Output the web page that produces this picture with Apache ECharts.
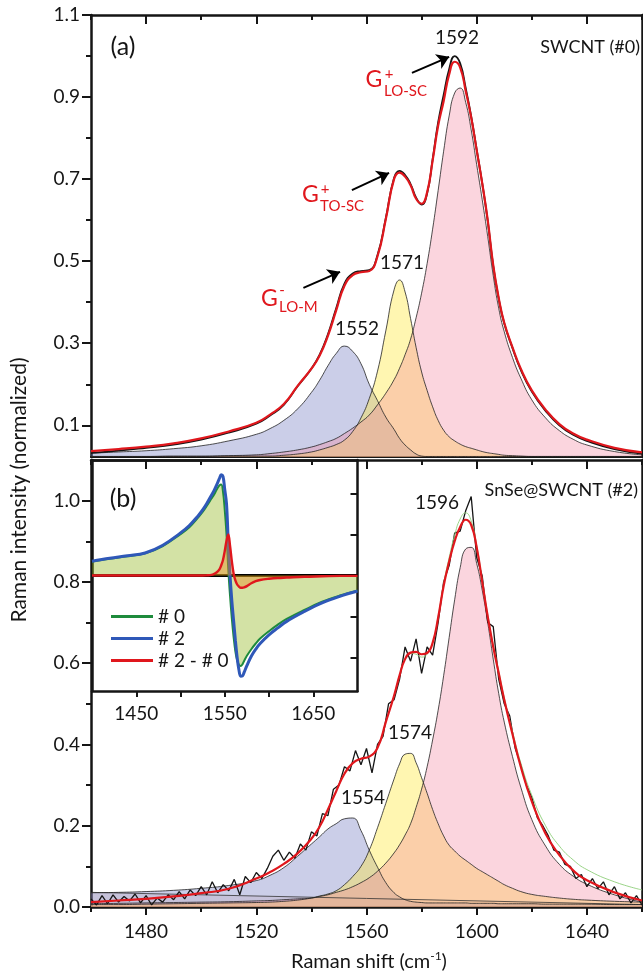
<!DOCTYPE html>
<html>
<head>
<meta charset="utf-8">
<script src="https://cdn.jsdelivr.net/npm/echarts@6/dist/echarts.min.js"></script>
<style>
html, body { margin: 0; padding: 0; background: #fff; }
#chart { width: 643px; height: 979px; }
</style>
</head>
<body>
<div id="chart"></div>
<script>
// ---- panel (a): SWCNT (#0) ----
var xA = [1460,1470,1480,1490,1500,1510,1520,1525,1530,1535,1540,1543,1546,1549,1552,1555,1558,1561,1564,1567,1570,1572,1574,1576,1578,1580,1582,1584,1586,1588,1590,1592,1594,1596,1598,1600,1602,1604,1606,1608,1610,1613,1616,1620,1625,1630,1635,1640,1650,1660];
var blueA = [0.032,0.035,0.038,0.043,0.050,0.062,0.078,0.092,0.112,0.140,0.180,0.210,0.245,0.275,0.293,0.280,0.250,0.200,0.160,0.120,0.090,0.068,0.052,0.040,0.030,0.025,0.024,0.024,0.024,0.024,0.024,0.024,0.024,0.024,0.024,0.024,0.024,0.024,0.024,0.024,0.024,0.024,0.024,0.024,0.024,0.024,0.024,0.024,0.024,0.024];
var yellowA = [0.024,0.024,0.024,0.024,0.024,0.025,0.025,0.025,0.027,0.030,0.035,0.040,0.046,0.053,0.064,0.085,0.118,0.165,0.232,0.330,0.430,0.454,0.425,0.360,0.290,0.230,0.185,0.145,0.112,0.088,0.072,0.062,0.054,0.048,0.044,0.040,0.036,0.033,0.031,0.029,0.027,0.026,0.025,0.024,0.024,0.024,0.024,0.024,0.024,0.024];
var pinkA = [0.024,0.024,0.024,0.025,0.025,0.026,0.028,0.031,0.035,0.040,0.047,0.053,0.060,0.068,0.080,0.093,0.108,0.125,0.150,0.178,0.211,0.239,0.272,0.310,0.362,0.422,0.494,0.578,0.672,0.768,0.854,0.910,0.922,0.887,0.820,0.735,0.650,0.560,0.465,0.385,0.328,0.265,0.215,0.162,0.118,0.087,0.066,0.052,0.036,0.028];
var fitA = [0.037,0.042,0.048,0.056,0.068,0.085,0.106,0.126,0.152,0.196,0.238,0.270,0.318,0.380,0.440,0.466,0.473,0.476,0.512,0.602,0.700,0.716,0.706,0.685,0.652,0.640,0.668,0.745,0.830,0.890,0.955,0.986,0.972,0.915,0.850,0.770,0.690,0.600,0.490,0.410,0.350,0.290,0.238,0.185,0.138,0.103,0.080,0.065,0.045,0.034];
var dataA = [0.033,0.038,0.045,0.053,0.065,0.082,0.104,0.124,0.150,0.195,0.238,0.272,0.322,0.385,0.445,0.470,0.476,0.478,0.515,0.605,0.703,0.720,0.710,0.688,0.655,0.638,0.665,0.748,0.838,0.905,0.968,1.000,0.982,0.922,0.853,0.772,0.690,0.598,0.488,0.408,0.348,0.288,0.235,0.182,0.135,0.100,0.077,0.062,0.042,0.031];
// arrows of panel (a): [from, to] in data units
var arrowsA = [[[1576.5, 0.959], [1590.0, 0.998]], [[1554.7, 0.673], [1568.2, 0.715]], [[1537.1, 0.435], [1550.4, 0.474]]];

// ---- lower panel: SnSe@SWCNT (#2) ----
var xB = xA;
var blueB = [0.035,0.036,0.038,0.041,0.046,0.053,0.065,0.078,0.097,0.125,0.155,0.173,0.192,0.205,0.217,0.219,0.188,0.140,0.098,0.060,0.035,0.025,0.018,0.014,0.012,0.011,0.010,0.010,0.010,0.010,0.010,0.010,0.010,0.010,0.009,0.009,0.009,0.009,0.009,0.008,0.008,0.008,0.008,0.008,0.007,0.007,0.007,0.007,0.006,0.006];
var yellowB = [0.006,0.006,0.007,0.008,0.009,0.010,0.011,0.012,0.014,0.017,0.022,0.027,0.032,0.040,0.055,0.075,0.100,0.140,0.195,0.255,0.315,0.352,0.376,0.378,0.355,0.318,0.280,0.240,0.205,0.175,0.152,0.138,0.125,0.115,0.105,0.095,0.087,0.079,0.071,0.063,0.055,0.046,0.038,0.031,0.026,0.022,0.019,0.017,0.014,0.012];
var pinkB = [0.008,0.009,0.010,0.011,0.012,0.013,0.015,0.016,0.018,0.020,0.022,0.026,0.030,0.036,0.042,0.050,0.060,0.072,0.088,0.108,0.133,0.153,0.177,0.205,0.245,0.290,0.345,0.411,0.484,0.569,0.663,0.756,0.835,0.881,0.885,0.845,0.780,0.700,0.610,0.525,0.455,0.370,0.295,0.215,0.150,0.105,0.076,0.056,0.030,0.012];
var fitB = [0.012,0.016,0.020,0.026,0.034,0.045,0.070,0.086,0.106,0.132,0.168,0.198,0.240,0.285,0.328,0.354,0.365,0.370,0.392,0.455,0.520,0.570,0.610,0.626,0.628,0.622,0.625,0.650,0.712,0.790,0.850,0.900,0.935,0.953,0.940,0.885,0.800,0.715,0.640,0.575,0.510,0.425,0.345,0.260,0.180,0.128,0.090,0.066,0.036,0.016];
var greenB = [0.012,0.016,0.020,0.026,0.034,0.045,0.070,0.086,0.106,0.132,0.168,0.198,0.240,0.285,0.328,0.354,0.365,0.370,0.392,0.455,0.520,0.570,0.610,0.624,0.622,0.615,0.622,0.650,0.715,0.795,0.860,0.915,0.955,0.970,0.950,0.890,0.805,0.720,0.645,0.580,0.515,0.432,0.355,0.275,0.200,0.150,0.116,0.092,0.062,0.042];
var bgB = [[1460, 0.036], [1660, 0.006]];
var xDStart = 1460, xDStep = 2;
var dataB = [0.020,0.005,0.028,0.008,0.030,0.012,0.026,0.015,0.032,0.010,
  0.028,0.005,0.022,0.012,0.030,0.018,0.038,0.020,0.042,0.028,
  0.050,0.030,0.062,0.035,0.055,0.040,0.068,0.030,0.075,0.060,
  0.085,0.070,0.095,0.125,0.140,0.115,0.135,0.120,0.155,0.140,
  0.185,0.175,0.230,0.225,0.290,0.300,0.345,0.335,0.385,0.350,
  0.390,0.330,0.400,0.420,0.500,0.510,0.560,0.640,0.605,0.660,
  0.575,0.640,0.620,0.700,0.800,0.840,0.920,0.925,0.975,1.010,
  0.860,0.815,0.700,0.690,0.560,0.500,0.470,0.390,0.350,0.300,
  0.270,0.220,0.200,0.175,0.140,0.135,0.105,0.100,0.070,0.080,
  0.050,0.070,0.045,0.062,0.030,0.050,0.020,0.035,0.010,0.028,
  0.005];

// ---- inset (b): difference spectra ----
var xI = [1400,1420,1440,1460,1480,1500,1510,1520,1525,1530,1535,1538,1541,1544,1546,1548,1550,1552,1554,1556,1558,1560,1562,1564,1566,1568,1570,1572,1575,1580,1585,1590,1600,1610,1620,1640,1660,1680,1700];
var s0 = [0.34,0.41,0.47,0.54,0.72,1.01,1.18,1.42,1.55,1.71,1.88,1.98,2.10,2.20,2.22,2.05,1.60,1.00,0.15,-0.50,-1.05,-1.50,-1.85,-2.07,-2.18,-2.21,-2.17,-2.08,-1.96,-1.80,-1.66,-1.54,-1.36,-1.20,-1.06,-0.84,-0.64,-0.49,-0.37];
var s2 = [0.35,0.42,0.48,0.55,0.74,1.04,1.22,1.46,1.60,1.77,1.96,2.08,2.22,2.37,2.46,2.42,2.10,1.75,0.80,0.00,-0.62,-1.10,-1.58,-2.00,-2.30,-2.46,-2.45,-2.36,-2.20,-1.97,-1.80,-1.66,-1.45,-1.28,-1.12,-0.88,-0.67,-0.51,-0.38];
var sDiff = [0,0,0,0,0,0,0,0,0,0.005,0.015,0.04,0.08,0.15,0.25,0.38,0.60,0.85,1.00,0.72,0.35,0.05,-0.12,-0.22,-0.27,-0.30,-0.30,-0.29,-0.26,-0.19,-0.14,-0.11,-0.08,-0.06,-0.05,-0.03,-0.02,-0.01,-0.01];

var ink = '#151515';
var red = '#e0171d';
var font = 'Lato';

function pairs(xs, ys) {
  var out = [];
  for (var i = 0; i < ys.length; i++) out.push([xs[i], ys[i]]);
  return out;
}
function evenPairs(x0, step, ys) {
  var out = [];
  for (var i = 0; i < ys.length; i++) out.push([x0 + i * step, ys[i]]);
  return out;
}
function fmt1(v) { return v.toFixed(1); }
function fmt0(v) { return String(Math.round(v)); }

// one axis, with only the parts that are asked for
function axis(o) {
  return {
    type: 'value', gridIndex: o.grid, min: o.min, max: o.max, position: o.pos,
    axisLine: { show: o.line !== false, onZero: false, lineStyle: { color: ink, width: o.lw || 2.5 } },
    axisTick: { show: !!o.ticks, inside: !!o.inside, length: o.len || 6, customValues: o.ticks,
      lineStyle: { color: ink, width: 2 } },
    axisLabel: { show: !!o.labels, customValues: o.labels, margin: o.margin || 8, formatter: o.fmt,
      color: ink, fontFamily: font, fontSize: 19 },
    splitLine: { show: false }
  };
}

var majX = [1480, 1520, 1560, 1600, 1640];
var minX = [1460, 1500, 1540, 1580, 1620, 1660];

var xAxes = [
  axis({ grid: 0, min: 1460, max: 1660, pos: 'bottom', lw: 2 }),                           // 0
  axis({ grid: 0, min: 1460, max: 1660, pos: 'top', ticks: majX, inside: true, len: 9 }),  // 1
  axis({ grid: 0, min: 1460, max: 1660, pos: 'top', ticks: minX, inside: true, len: 5, line: false }),
  axis({ grid: 1, min: 1460, max: 1660, pos: 'bottom', ticks: majX, len: 8, labels: majX, fmt: fmt0, margin: 15 }), // 3
  axis({ grid: 1, min: 1460, max: 1660, pos: 'bottom', ticks: minX, len: 5, line: false }),
  axis({ grid: 1, min: 1460, max: 1660, pos: 'top', ticks: majX, inside: true, len: 9 }),
  axis({ grid: 1, min: 1460, max: 1660, pos: 'top', ticks: minX, inside: true, len: 5, line: false }),
  axis({ grid: 2, min: 1400, max: 1700, pos: 'bottom', ticks: [1450, 1500, 1550, 1600, 1650], len: 6,
    labels: [1450, 1550, 1650], fmt: fmt0, margin: 13 }),                                  // 7
  axis({ grid: 2, min: 1400, max: 1700, pos: 'top' })
];

var yAxes = [
  axis({ grid: 0, min: 0.0227, max: 1.1, pos: 'left', ticks: [0.1, 0.3, 0.5, 0.7, 0.9, 1.1], len: 9,
    labels: [0.1, 0.3, 0.5, 0.7, 0.9, 1.1], fmt: fmt1, margin: 11 }),                      // 0
  axis({ grid: 0, min: 0.0227, max: 1.1, pos: 'left', ticks: [0.2, 0.4, 0.6, 0.8, 1.0], len: 5, line: false }),
  axis({ grid: 0, min: 0.0227, max: 1.1, pos: 'right' }),
  axis({ grid: 1, min: 0, max: 1.1, pos: 'left', ticks: [0, 0.2, 0.4, 0.6, 0.8, 1.0], len: 9,
    labels: [0, 0.2, 0.4, 0.6, 0.8, 1.0], fmt: fmt1, margin: 11 }),                        // 3
  axis({ grid: 1, min: 0, max: 1.1, pos: 'left', ticks: [0.1, 0.3, 0.5, 0.7, 0.9], len: 5, line: false }),
  axis({ grid: 1, min: 0, max: 1.1, pos: 'right' }),
  axis({ grid: 2, min: -2.82, max: 2.82, pos: 'left' }),                                     // 6
  axis({ grid: 2, min: -2.82, max: 2.82, pos: 'right', ticks: [-2, -1, 0, 1, 2], inside: true, len: 7 })
];

function comp(name, xs, ys, fill, xi, yi) {
  return { name: name, type: 'line', xAxisIndex: xi, yAxisIndex: yi, data: pairs(xs, ys),
    smooth: 0.5, showSymbol: false, silent: true, z: 2,
    lineStyle: { color: '#222', width: 0.8 }, areaStyle: { color: fill, origin: 'start', opacity: 1 } };
}
function curve(name, data, color, width, xi, yi, smooth, z) {
  return { name: name, type: 'line', xAxisIndex: xi, yAxisIndex: yi, data: data,
    smooth: smooth, showSymbol: false, silent: true, z: z || 3, color: color,
    lineStyle: { color: color, width: width } };
}

var lav = 'rgba(112,118,192,0.36)';
var yel = 'rgba(255,232,60,0.40)';
var pnk = 'rgba(244,128,155,0.33)';

var arrowLines = arrowsA.map(function (a) { return [{ coord: a[0] }, { coord: a[1] }]; });

var series = [
  comp('1552', xA, blueA, lav, 0, 0),
  comp('1571', xA, yellowA, yel, 0, 0),
  comp('1592', xA, pinkA, pnk, 0, 0),
  curve('data #0', pairs(xA, dataA), ink, 1.8, 0, 0, 0.5, 4),
  (function () {
    var s = curve('fit #0', pairs(xA, fitA), red, 2.2, 0, 0, 0.5, 5);
    s.markLine = { silent: true, symbol: ['none', 'arrow'], symbolSize: 12, animation: false,
      label: { show: false }, lineStyle: { color: '#000', width: 2, type: 'solid' },
      itemStyle: { color: '#000' }, data: arrowLines };
    return s;
  })(),

  (function () {
    var s = curve('background', bgB, '#333', 0.8, 3, 3, false, 2);
    s.areaStyle = { color: 'rgba(200,140,120,0.22)', origin: 'start' };
    return s;
  })(),
  comp('1554', xB, blueB, lav, 3, 3),
  comp('1574', xB, yellowB, yel, 3, 3),
  comp('1596', xB, pinkB, pnk, 3, 3),
  curve('data #2', evenPairs(xDStart, xDStep, dataB), ink, 1.3, 3, 3, false, 4),
  curve('fit #0 scaled', pairs(xB, greenB), '#8fcf7a', 0.9, 3, 3, 0.5, 4),
  curve('fit #2', pairs(xB, fitB), red, 2.2, 3, 3, 0.5, 5),

  (function () {
    var s = curve('# 0', pairs(xI, s0), '#1e8b3c', 2, 7, 6, 0.4, 6);
    s.areaStyle = { color: 'rgba(140,180,20,0.55)', origin: 'auto' };
    return s;
  })(),
  curve('# 2', pairs(xI, s2), '#2f58b8', 3, 7, 6, 0.4, 7),
  (function () {
    var s = curve('# 2 - # 0', pairs(xI, sDiff), red, 2.4, 7, 6, 0.4, 8);
    s.areaStyle = { color: 'rgba(240,135,30,0.6)', origin: 'auto' };
    s.markLine = { silent: true, symbol: ['none', 'none'], animation: false, label: { show: false },
      lineStyle: { color: '#000', width: 3, type: 'solid' }, data: [{ yAxis: 0 }] };
    return s;
  })()
];

function txt(t, x, y, size, color, align, extra) {
  var o = { type: 'text', x: x, y: y, z: 50, silent: true,
    style: { text: t, fill: color || ink, font: size + 'px ' + font, align: align || 'center', verticalAlign: 'middle' } };
  if (extra) for (var k in extra) o[k] = extra[k];
  return o;
}

var graphics = [
  txt('(a)', 123, 47, 25),
  txt('SWCNT (#0)', 640, 47, 18, ink, 'right'),
  txt('1592', 457, 38, 19),
  txt('1571', 402, 263, 19),
  txt('1552', 357, 329, 19),
  txt('G', 374, 80, 23, red), txt('+', 389, 74, 15, red), txt('LO-SC', 384, 91.5, 15, red, 'left'),
  txt('G', 310.5, 195, 23, red), txt('+', 325, 189, 15, red), txt('TO-SC', 320, 206, 15, red, 'left'),
  txt('G', 269.5, 299, 23, red), txt('-', 282, 290, 15, red), txt('LO-M', 279, 307.5, 15, red, 'left'),
  txt('(b)', 123, 499, 25),
  txt('SnSe@SWCNT (#2)', 638, 490, 18, ink, 'right'),
  txt('1596', 437, 503, 19),
  txt('1574', 410, 733, 19),
  txt('1554', 363, 798, 19),
  txt('Raman intensity (normalized)', 19, 490, 21, ink, 'center', { rotation: Math.PI / 2 }),
  { type: 'text', x: 369, y: 962, z: 50, silent: true,
    style: { text: '{a|Raman shift (cm}{s|-1}{a|)}', align: 'center', verticalAlign: 'middle', fill: ink,
      rich: { a: { fontFamily: font, fontSize: 20, lineHeight: 24, fill: ink, verticalAlign: 'middle' },
        s: { fontFamily: font, fontSize: 12, lineHeight: 24, fill: ink, verticalAlign: 'top' } } } }
];

var chart = echarts.init(document.getElementById('chart'), null, { renderer: 'canvas' });
chart.setOption({
  animation: false,
  backgroundColor: '#fff',
  grid: [
    { left: 91, top: 15, width: 551, height: 442 },
    { left: 91, top: 460, width: 551, height: 447 },
    { left: 92, top: 460, width: 265.5, height: 231 }
  ],
  xAxis: xAxes,
  yAxis: yAxes,
  legend: {
    data: ['# 0', '# 2', '# 2 - # 0'], orient: 'vertical', left: 106, top: 602,
    icon: 'rect', itemWidth: 42, itemHeight: 3, itemGap: 3, selectedMode: false,
    textStyle: { fontFamily: font, fontSize: 19, color: ink }
  },
  series: series,
  graphic: graphics
});
</script>
